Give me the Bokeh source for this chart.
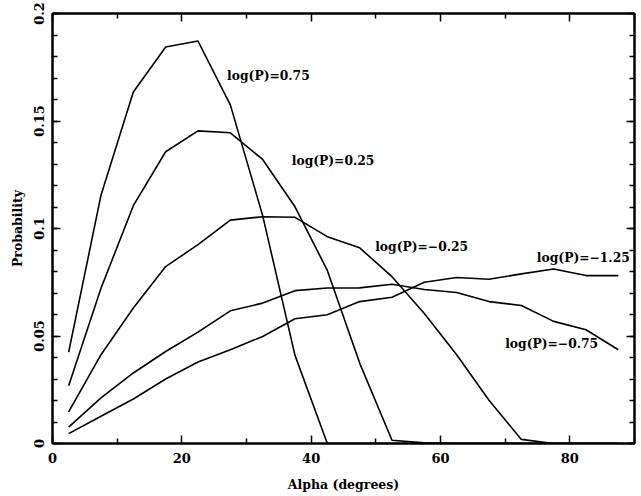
from bokeh.plotting import figure
from bokeh.models import FixedTicker, LinearAxis, ColumnDataSource, Range1d
from bokeh.core.properties import value
from bokeh.embed import file_html
from bokeh.resources import INLINE

alpha = [2.5, 7.5, 12.5, 17.5, 22.5, 27.5, 32.5, 37.5, 42.5, 47.5,
         52.5, 57.5, 62.5, 67.5, 72.5, 77.5, 82.5, 87.5]
p_075 = [0.0425, 0.1155, 0.1635, 0.1844, 0.1872, 0.1575, 0.1060, 0.0410, 0.0,
         0.0, 0.0, 0.0, 0.0, 0.0, 0.0, 0.0, 0.0, 0.0]
p_025 = [0.0269, 0.0722, 0.1106, 0.1357, 0.1454, 0.1445, 0.1321, 0.1101, 0.0805,
         0.0374, 0.0015, 0.0003, 0.0, 0.0, 0.0, 0.0, 0.0, 0.0]
p_m025 = [0.0147, 0.0413, 0.0630, 0.0823, 0.0925, 0.1039, 0.1055, 0.1052, 0.0962,
          0.0910, 0.0776, 0.0605, 0.0413, 0.0201, 0.0019, 0.0, 0.0, 0.0]
p_m075 = [0.0076, 0.0212, 0.0328, 0.0428, 0.0518, 0.0617, 0.0653, 0.0711, 0.0723,
          0.0724, 0.0741, 0.0716, 0.0702, 0.0660, 0.0642, 0.0568, 0.0529, 0.0436]
p_m125 = [0.0046, 0.0127, 0.0207, 0.0300, 0.0379, 0.0436, 0.0498, 0.0580, 0.0599,
          0.0660, 0.0680, 0.0750, 0.0772, 0.0764, 0.0789, 0.0812, 0.0781, 0.0781]

labels = ["log(P)=0.75", "log(P)=0.25", "log(P)=\u22120.25", "log(P)=\u22121.25", "log(P)=\u22120.75"]
label_x = [27.0, 37.0, 49.9, 74.9, 70.0]
label_y = [0.1712, 0.1315, 0.0916, 0.0866, 0.0463]

x_ticks = [0, 20, 40, 60, 80]
x_minor = [10, 30, 50, 70, 90]
y_ticks = [0, 0.05, 0.1, 0.15, 0.2]
y_tick_labels = ["0", "0.05", "0.1", "0.15", "0.2"]
y_minor = [0.01 * i for i in range(21)]

FONT = "DejaVu Serif"

p = figure(width=639, height=494, output_backend="svg", toolbar_location=None,
           x_range=Range1d(0, 90), y_range=Range1d(0, 0.2),
           min_border_left=52, min_border_right=5, min_border_top=13, min_border_bottom=50,
           x_axis_label="Alpha (degrees)", y_axis_label="Probability")
p.grid.visible = False
p.outline_line_color = "black"
p.outline_line_width = 2
p.background_fill_color = "white"
p.border_fill_color = "white"

for series in [p_075, p_025, p_m025, p_m075, p_m125]:
    p.line(alpha, series, line_color="black", line_width=1.6)

src = ColumnDataSource(dict(x=label_x, y=label_y, t=labels))
p.text(x="x", y="y", text="t", source=src, text_font=value(FONT), text_font_style="bold",
       text_font_size="12.3px", text_align="left", text_baseline="middle", text_color="black")

xt = FixedTicker(ticks=x_ticks, minor_ticks=x_minor)
yt = FixedTicker(ticks=y_ticks, minor_ticks=y_minor)

def style(ax, ticker, show_labels):
    ax.ticker = ticker
    ax.axis_line_color = "black"
    ax.axis_line_width = 2
    ax.major_tick_in = 8
    ax.major_tick_out = 0
    ax.minor_tick_in = 5
    ax.minor_tick_out = 0
    ax.major_tick_line_width = 1.5
    ax.minor_tick_line_width = 1.5
    ax.major_label_text_font = FONT
    ax.major_label_text_font_style = "bold"
    ax.axis_label_text_font = FONT
    ax.axis_label_text_font_style = "bold"
    ax.axis_label_text_font_size = "12.5px"
    ax.axis_label_text_color = "black"
    if show_labels:
        ax.major_label_text_color = "black"
        ax.major_label_text_font_size = "13px"
        ax.major_label_standoff = 9
    else:
        ax.major_label_text_color = None
        ax.major_label_text_font_size = "1px"
        ax.major_label_standoff = 0

xa = p.xaxis[0]
ya = p.yaxis[0]
style(xa, xt, True)
style(ya, yt, True)
xa.axis_label_standoff = 11
ya.axis_label_standoff = 6
ya.major_label_orientation = "vertical"
ya.major_label_overrides = {t: s for t, s in zip(y_ticks, y_tick_labels)}

top = LinearAxis()
style(top, xt, False)
p.add_layout(top, "above")
right = LinearAxis()
style(right, yt, False)
p.add_layout(right, "right")

open("out.html", "w").write(file_html(p, INLINE))
